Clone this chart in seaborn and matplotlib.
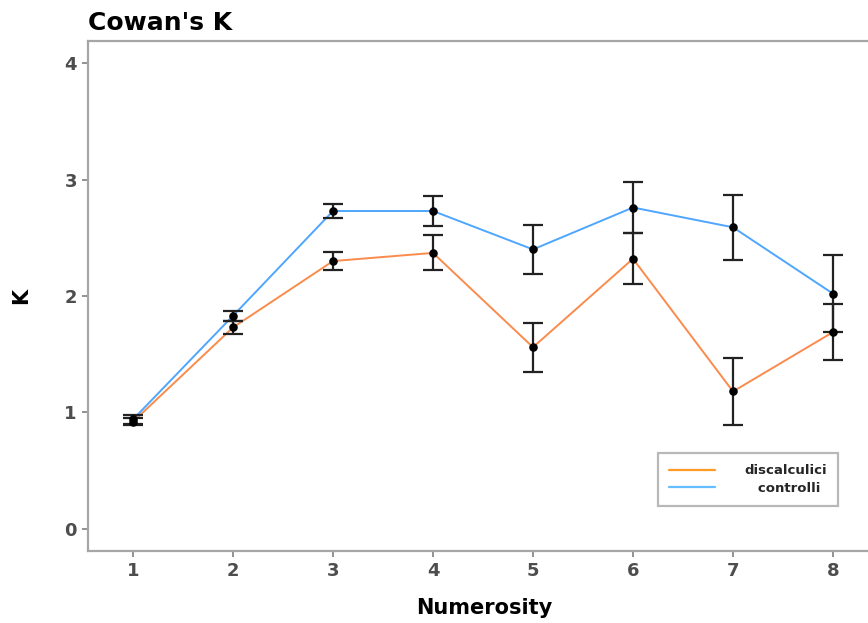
import matplotlib
matplotlib.use("Agg")
import matplotlib.pyplot as plt
from matplotlib.lines import Line2D
import seaborn as sns
import pandas as pd

numerosity = [1, 2, 3, 4, 5, 6, 7, 8]
groups = ["discalculici", "controlli"]
k_discalculici = [0.92, 1.73, 2.30, 2.37, 1.56, 2.32, 1.18, 1.69]
se_discalculici = [0.03, 0.055, 0.08, 0.15, 0.21, 0.22, 0.285, 0.24]
k_controlli = [0.94, 1.83, 2.73, 2.73, 2.40, 2.76, 2.59, 2.02]
se_controlli = [0.04, 0.045, 0.06, 0.125, 0.21, 0.22, 0.28, 0.33]
y_ticks = [0, 1, 2, 3, 4]

colors = {"discalculici": "#FA8B4C", "controlli": "#4EA6FF"}
legend_colors = {"discalculici": "#FF9A24", "controlli": "#63BDFF"}

df = pd.DataFrame({
    "Numerosity": numerosity * 2,
    "K": k_discalculici + k_controlli,
    "se": se_discalculici + se_controlli,
    "group": [groups[0]] * 8 + [groups[1]] * 8,
})

sns.set_theme(style="white")
plt.rcParams["font.family"] = ["DejaVu Sans"]

fig = plt.figure(figsize=(8.68, 6.23), dpi=100)
W, H = 868, 623
left, right, top, bottom = 88, 880, 41, 551
ax = fig.add_axes([left / W, 1 - bottom / H, (right - left) / W, (bottom - top) / H])

sns.lineplot(data=df, x="Numerosity", y="K", hue="group", palette=colors,
             linewidth=1.4, legend=False, ax=ax, zorder=2)

for g in groups:
    sub = df[df["group"] == g]
    ax.errorbar(sub["Numerosity"], sub["K"], yerr=sub["se"], fmt="none",
                ecolor="#222222", elinewidth=1.6, capsize=7.5, capthick=1.6, zorder=3)

sns.scatterplot(data=df, x="Numerosity", y="K", color="black", s=38,
                edgecolor="black", linewidth=0, legend=False, ax=ax, zorder=4)

ax.set_xlim(0.55, 8.47)
ax.set_ylim(-0.19, 4.19)
ax.set_xticks(numerosity)
ax.set_yticks(y_ticks)
ax.tick_params(axis="both", which="both", length=4, width=1.2, color="#7f7f7f",
               labelsize=13, labelcolor="#4D4D4D", pad=4, direction="out",
               bottom=True, left=True)
for lab in ax.get_xticklabels() + ax.get_yticklabels():
    lab.set_fontweight("bold")

for side in ["left", "bottom", "top"]:
    ax.spines[side].set_visible(True)
    ax.spines[side].set_color("#A6A6A6")
    ax.spines[side].set_linewidth(1.6)
ax.spines["right"].set_visible(False)

ax.set_xlabel("Numerosity", fontsize=15, fontweight="bold", color="black", labelpad=13)
ax.set_ylabel("K", fontsize=15, fontweight="bold", color="black", labelpad=24)
fig.text(left / W, 1 - 23 / H, "Cowan's K", fontsize=18, fontweight="bold",
         ha="left", va="center", color="black")

handles = [Line2D([], [], color=legend_colors[g], linewidth=1.6) for g in groups]
labels = ["discalculici", "   controlli"]
leg = ax.legend(handles, labels, loc="upper left",
                bbox_to_anchor=(658 / W, 1 - 453 / H), bbox_transform=fig.transFigure,
                frameon=True, fancybox=False, edgecolor="#A6A6A6",
                prop={"weight": "bold", "size": 9.5}, handlelength=3.5,
                handletextpad=2.2, borderpad=0.85, labelspacing=0.35,
                borderaxespad=0)
leg.get_frame().set_linewidth(1.6)

fig.savefig("out.png", dpi=100)
